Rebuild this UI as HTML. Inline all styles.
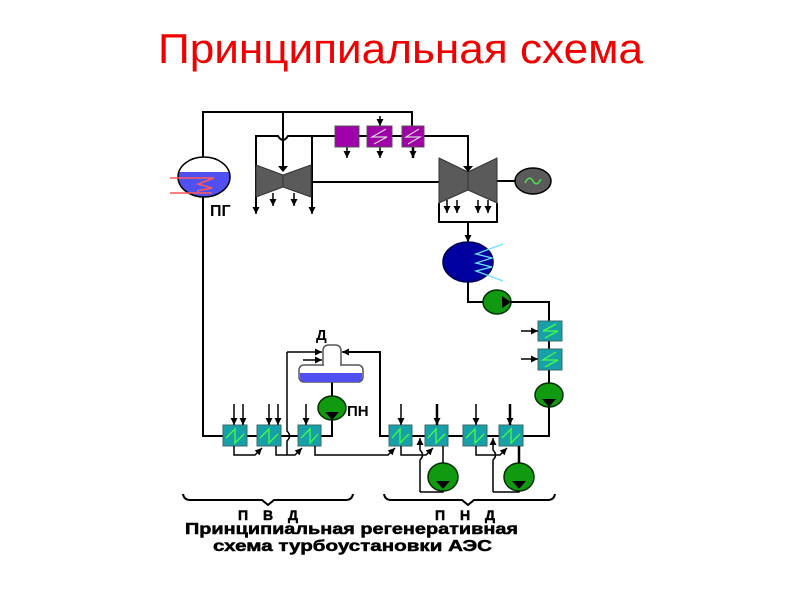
<!DOCTYPE html>
<html>
<head>
<meta charset="utf-8">
<style>
html,body{margin:0;padding:0;background:#fff;}
svg{display:block;}
</style>
</head>
<body>
<svg width="800" height="600" viewBox="0 0 800 600" xmlns="http://www.w3.org/2000/svg">
<defs>
<marker id="a" markerUnits="userSpaceOnUse" markerWidth="8" markerHeight="8" refX="7" refY="4" orient="auto">
<path d="M0,0.5 L7,4 L0,7.5 Z" fill="#000"/>
</marker>
<clipPath id="pgc"><rect x="170" y="172" width="70" height="30"/></clipPath>
</defs>

<text x="158" y="63" font-family="Liberation Sans, Arial, sans-serif" font-size="42" fill="#f00000" textLength="485" lengthAdjust="spacingAndGlyphs">Принципиальная схема</text>

<g fill="none" stroke="#000" stroke-width="2">
<path d="M203,157 V112 H412 V126"/>
<path d="M203,197 V436 H223"/>
<path d="M247,436 H257"/>
<path d="M281,436 H298"/>
<path d="M321,436 H332 V420"/>
<path d="M332,382 V396"/>
<path d="M343,352 H380 V436 H389"/>
<path d="M412,436 H425"/>
<path d="M448,436 H463"/>
<path d="M487,436 H499"/>
<path d="M523,436 H549 V407"/>
<path d="M549,384 V370"/>
<path d="M549,341 V349"/>
<path d="M549,321 V302 H511"/>
<path d="M483,302 H468 V282"/>
<path d="M283,112 V166"/>
<path d="M256,213 V136 H278 Q283,144 288,136 H335"/>
<path d="M312,136 V213"/>
<path d="M359,136 H367"/>
<path d="M392,136 H402"/>
<path d="M424,136 H468 V166"/>
<path d="M312,182 H439"/>
<path d="M439,203 V222 H497 V203"/>
<path d="M497,181 H515"/>
<path d="M468,222 V241"/>
</g>

<polygon points="256,165 283,175 283,187 256,197" fill="#5a5a5a" stroke="#333" stroke-width="1"/>
<polygon points="283,175 311,165 311,197 283,187" fill="#5a5a5a" stroke="#333" stroke-width="1"/>
<polygon points="278,166 288,166 283,172" fill="#000"/>
<polygon points="439,158 468,172 468,190 439,203" fill="#5a5a5a" stroke="#333" stroke-width="1"/>
<polygon points="468,172 497,158 497,203 468,190" fill="#5a5a5a" stroke="#333" stroke-width="1"/>
<polygon points="463,166 473,166 468,172" fill="#000"/>

<g stroke="#000" stroke-width="1.5" fill="none" marker-end="url(#a)">
<path d="M273,193 V206"/>
<path d="M294,193 V206"/>
<path d="M256,210 V214"/>
<path d="M312,210 V214"/>
<path d="M447,200 V213"/>
<path d="M457,200 V213"/>
<path d="M478,200 V213"/>
<path d="M488,200 V213"/>
<path d="M347,147 V158"/>
<path d="M380,147 V158"/>
<path d="M380,116 V126"/>
<path d="M468,236 V242"/>
</g>
<path d="M413,147 V158" stroke="#000" stroke-width="2.5" marker-end="url(#a)"/>

<ellipse cx="533" cy="181" rx="18" ry="13" fill="#5a5a5a" stroke="#000" stroke-width="1.5"/>
<path d="M525,183 C528,177 531,177 533,181 C535,185 538,185 541,179" fill="none" stroke="#50e050" stroke-width="1.5"/>

<rect x="335" y="126" width="24" height="21" fill="#a000a8" stroke="#555" stroke-width="1"/>
<rect x="367" y="126" width="25" height="21" fill="#a000a8" stroke="#555" stroke-width="1"/>
<rect x="402" y="126" width="22" height="21" fill="#a000a8" stroke="#555" stroke-width="1"/>
<polyline points="386,129 372,137 387,137 374,144" fill="none" stroke="#d8d8d8" stroke-width="1.2"/>
<polyline points="419,129 406,137 420,137 408,144" fill="none" stroke="#d8d8d8" stroke-width="1.2"/>

<ellipse cx="204" cy="177" rx="26" ry="20" fill="#fff"/>
<ellipse cx="204" cy="177" rx="26" ry="20" fill="#5050f0" clip-path="url(#pgc)"/>
<ellipse cx="204" cy="177" rx="26" ry="20" fill="none" stroke="#000" stroke-width="1.5"/>
<path d="M170,178 H214 L198,184 L212,188 L197,191 M170,193 H212" fill="none" stroke="#ff5a5a" stroke-width="1.5"/>
<text x="210" y="216" font-family="Liberation Sans, Arial, sans-serif" font-weight="bold" font-size="16">ПГ</text>

<ellipse cx="468" cy="262" rx="25" ry="20" fill="#0000a0" stroke="#000050" stroke-width="1.5"/>
<polyline points="503,244 476,254 492,258 476,263 492,267 476,271 503,281" fill="none" stroke="#70e0ff" stroke-width="1.3"/>

<ellipse cx="497" cy="302" rx="14" ry="12" fill="#109a10" stroke="#003000" stroke-width="1.5"/>
<polygon points="502,296 502,308 511,302" fill="#000"/>
<ellipse cx="549" cy="395" rx="14" ry="12" fill="#109a10" stroke="#003000" stroke-width="1.5"/>
<polygon points="542,399 556,399 549,407" fill="#000"/>
<ellipse cx="332" cy="408" rx="14" ry="12" fill="#109a10" stroke="#003000" stroke-width="1.5"/>
<polygon points="325,412 339,412 332,420" fill="#000"/>
<ellipse cx="443" cy="477" rx="15" ry="14" fill="#109a10" stroke="#003000" stroke-width="1.5"/>
<polygon points="436,481 450,481 443,489" fill="#000"/>
<ellipse cx="519" cy="477" rx="15" ry="14" fill="#109a10" stroke="#003000" stroke-width="1.5"/>
<polygon points="512,481 526,481 519,489" fill="#000"/>
<text x="347" y="416" font-family="Liberation Sans, Arial, sans-serif" font-weight="bold" font-size="15">ПН</text>

<path d="M323,366 V351 Q323,345 329,345 H335 Q341,345 341,351 V366" fill="#fff" stroke="#555" stroke-width="1.5"/>
<rect x="299" y="365" width="64" height="17" rx="5" fill="#fff" stroke="#555" stroke-width="1.5"/>
<path d="M300,373 H362 V377 Q362,382 357,382 H305 Q300,382 300,377 Z" fill="#5050f0"/>
<rect x="324" y="364" width="16" height="3" fill="#fff"/>
<text x="316" y="340" font-family="Liberation Sans, Arial, sans-serif" font-weight="bold" font-size="15">Д</text>
<g stroke="#000" stroke-width="1.5" fill="none">
<path d="M287,352 H322" marker-end="url(#a)"/>
<path d="M303,360 H322" marker-end="url(#a)"/>
<path d="M352,352 H342" marker-end="url(#a)"/>
<path d="M287,352 V431 Q292,436 287,441 V455"/>
</g>

<g fill="#18a0a8" stroke="#3a6a6a" stroke-width="1">
<rect x="223" y="425" width="24" height="21"/>
<rect x="257" y="425" width="24" height="21"/>
<rect x="298" y="425" width="23" height="21"/>
<rect x="389" y="425" width="23" height="21"/>
<rect x="425" y="425" width="23" height="21"/>
<rect x="463" y="425" width="24" height="21"/>
<rect x="499" y="425" width="24" height="21"/>
<rect x="538" y="321" width="24" height="20"/>
<rect x="538" y="349" width="24" height="21"/>
</g>
<g fill="none" stroke="#40ff40" stroke-width="1.3">
<polyline points="226,438 235,429 235,443 244,434"/>
<polyline points="260,438 269,429 269,443 278,434"/>
<polyline points="301,438 310,429 310,443 318,434"/>
<polyline points="392,438 400,429 400,443 409,434"/>
<polyline points="428,438 436,429 436,443 445,434"/>
<polyline points="466,438 475,429 475,443 484,434"/>
<polyline points="502,438 511,429 511,443 520,434"/>
<polyline points="556,324 543,331 558,331 545,338"/>
<polyline points="556,352 543,360 558,360 545,367"/>
</g>

<g stroke="#000" stroke-width="1.5" fill="none" marker-end="url(#a)">
<path d="M234,404 V425"/>
<path d="M243,404 V425"/>
<path d="M269,404 V425"/>
<path d="M278,404 V425"/>
<path d="M306,404 V425"/>
<path d="M401,404 V425"/>
<path d="M476,404 V425"/>
<path d="M521,331 H538"/>
<path d="M521,359 H538"/>
</g>
<g stroke="#000" stroke-width="2.5" fill="none" marker-end="url(#a)">
<path d="M437,404 V425"/>
<path d="M510,404 V425"/>
</g>

<g stroke="#000" stroke-width="1.5" fill="none">
<path d="M234,446 V455 H255 L262,448" marker-end="url(#a)"/>
<path d="M276,446 V455 H295 L302,448" marker-end="url(#a)"/>
<path d="M315,446 V455 H388 L395,448" marker-end="url(#a)"/>
<path d="M401,446 V455 H426 L433,448" marker-end="url(#a)"/>
<path d="M476,446 V455 H500 L507,448" marker-end="url(#a)"/>
<path d="M420,492 V460 Q425,455 420,450 V438" marker-end="url(#a)"/>
<path d="M420,492 H443 V491"/>
<path d="M443,446 V463"/>
<path d="M493,492 V460 Q498,455 493,450 V438" marker-end="url(#a)"/>
<path d="M493,492 H519 V491"/>
</g>
<path d="M519,446 V463" stroke="#000" stroke-width="2.5"/>

<g stroke="#000" stroke-width="2" fill="none">
<path d="M183,494 Q184,500 190,500 H262 L268,505 L274,500 H346 Q352,500 353,494"/>
<path d="M384,494 Q385,500 391,500 H462 L468,505 L474,500 H548 Q554,500 555,494"/>
</g>

<g font-family="Liberation Sans, Arial, sans-serif" font-weight="bold" fill="#000" stroke="#000" stroke-width="0.5">
<text x="238" y="520" font-size="14" textLength="60" lengthAdjust="spacing">П В Д</text>
<text x="435" y="520" font-size="14" textLength="60" lengthAdjust="spacing">П Н Д</text>
<text x="185" y="534" font-size="16" textLength="333" lengthAdjust="spacingAndGlyphs">Принципиальная регенеративная</text>
<text x="213" y="551" font-size="16" textLength="279" lengthAdjust="spacingAndGlyphs">схема турбоустановки АЭС</text>
</g>
</svg>
</body>
</html>
